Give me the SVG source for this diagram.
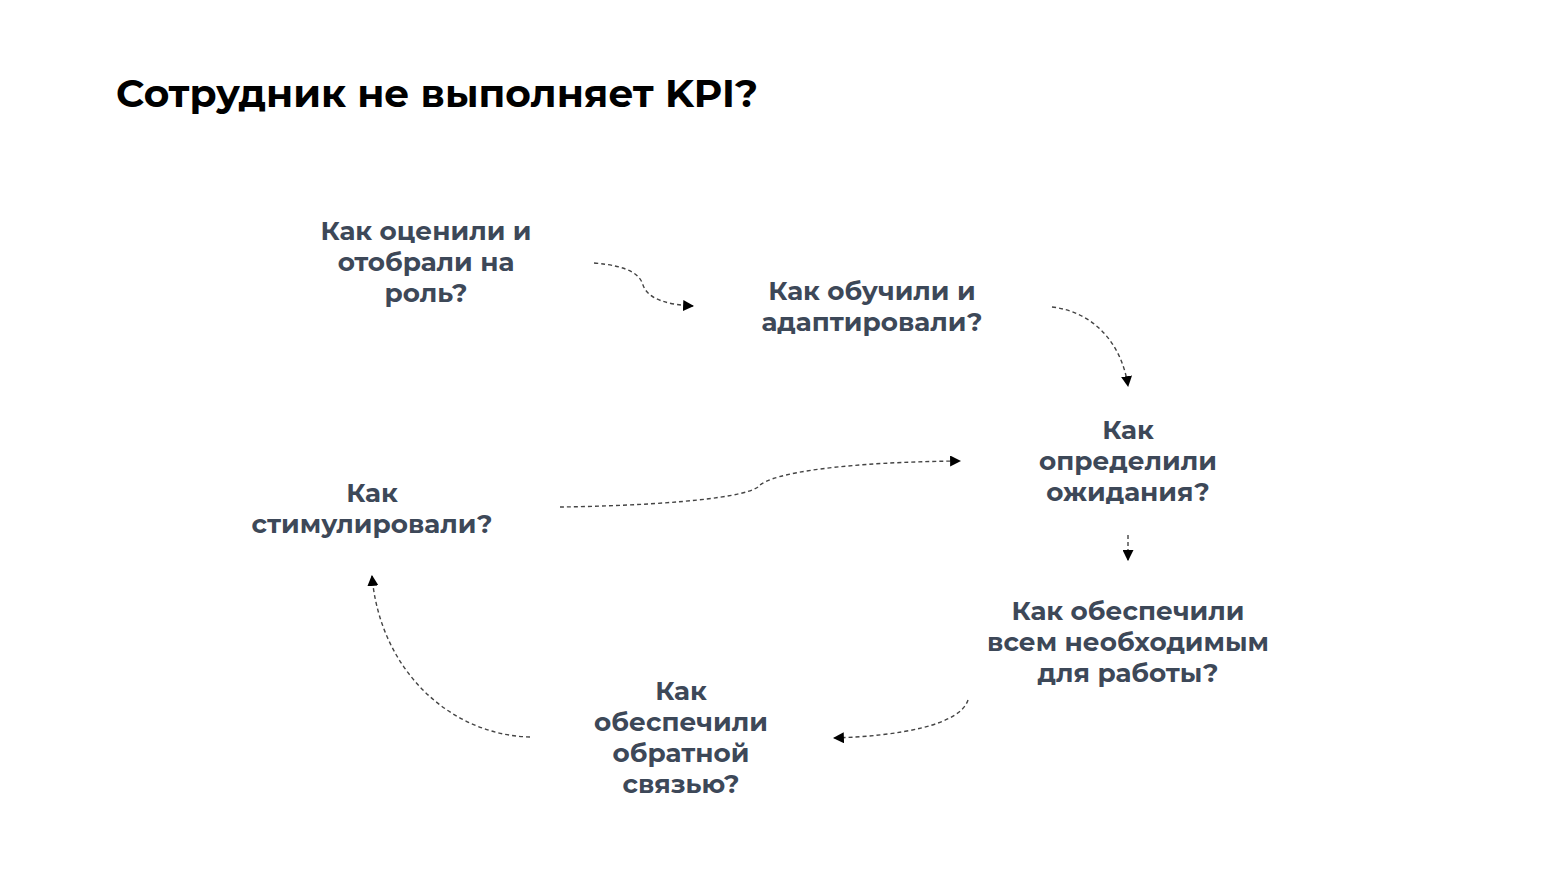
<svg xmlns="http://www.w3.org/2000/svg" width="1560" height="877" viewBox="0 0 1560 877">
<defs>
<marker id="ah" viewBox="0 0 10 10" refX="9" refY="5" markerWidth="11" markerHeight="11" markerUnits="userSpaceOnUse" orient="auto">
<path d="M0,0 L10,5 L0,10 z" fill="#000"/>
</marker>
<style>
.title{font-family:"Montserrat","Open Sans","Liberation Sans",sans-serif;font-weight:700;font-size:38px;fill:#000}
.node{font-family:"Montserrat","Open Sans","Liberation Sans",sans-serif;font-weight:700;font-size:26.3px;fill:#3d4858;text-anchor:middle}
.conn{fill:none;stroke:#444;stroke-width:1.4;stroke-dasharray:4 3;marker-end:url(#ah)}
</style>
</defs>
<rect width="1560" height="877" fill="#fff"/>
<text class="title" x="116" y="107" textLength="642" lengthAdjust="spacingAndGlyphs">Сотрудник не выполняет KPI?</text>
<g id="n1"><text class="node" x="426" y="240">Как оценили и</text><text class="node" x="426" y="271">отобрали на</text><text class="node" x="426" y="302">роль?</text></g>
<g id="n2"><text class="node" x="872" y="300">Как обучили и</text><text class="node" x="872" y="331">адаптировали?</text></g>
<g id="n3"><text class="node" x="1128" y="439">Как</text><text class="node" x="1128" y="470">определили</text><text class="node" x="1128" y="501">ожидания?</text></g>
<g id="n4"><text class="node" x="372" y="502">Как</text><text class="node" x="372" y="533">стимулировали?</text></g>
<g id="n5"><text class="node" x="1128" y="620">Как обеспечили</text><text class="node" x="1128" y="651">всем необходимым</text><text class="node" x="1128" y="682">для работы?</text></g>
<g id="n6"><text class="node" x="681" y="700">Как</text><text class="node" x="681" y="731">обеспечили</text><text class="node" x="681" y="762">обратной</text><text class="node" x="681" y="793">связью?</text></g>
<g id="connectors">
<path class="conn" d="M594,263 C630,266 640,275 643,285 C648,300 670,305 693,306"/>
<path class="conn" d="M1052,307 C1095,312 1122,345 1128,386"/>
<path class="conn" d="M560,507 C640,506 740,500 758,487 C770,472 850,462 960,461"/>
<path class="conn" d="M1128,535 L1128,560"/>
<path class="conn" d="M968,700 C960,725 900,736 834,738"/>
<path class="conn" d="M530,737 C450,735 380,670 372,576"/>
</g>
</svg>
